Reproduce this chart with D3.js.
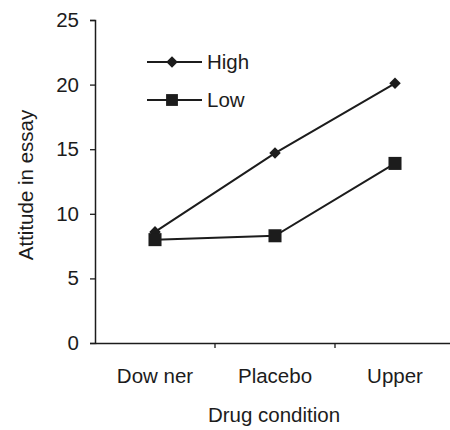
<!DOCTYPE html>
<html><head><meta charset="utf-8">
<script src="https://cdn.jsdelivr.net/npm/d3@7"></script>
<style>body{margin:0;background:#fff}</style>
</head><body>
<svg id="c" width="450" height="430"></svg>
<script>
const categories = ["Dow ner", "Placebo", "Upper"];
const highValues = [8.6, 14.7, 20.1];
const lowValues = [8.0, 8.3, 13.9];
const yTicks = [0, 5, 10, 15, 20, 25];
const seriesNames = ["High", "Low"];

const svg = d3.select("#c");
const ink = "#1c1c1c";
const font = "Liberation Sans, Arial, sans-serif";
const fs = 20.5;
const mLeft = 95, mRight = 455, mTop = 20, mBottom = 343;

const x = d3.scaleBand().domain(categories).range([mLeft, mRight]);
const y = d3.scaleLinear().domain([0, 25]).range([mBottom, mTop]);

// y axis
const ya = svg.append("g").attr("transform", `translate(${mLeft},0)`)
  .call(d3.axisLeft(y).tickValues(yTicks).tickSize(5).tickPadding(11));
ya.select(".domain").attr("stroke", ink).attr("stroke-width", 1.5);
ya.selectAll(".tick line").attr("stroke", ink).attr("stroke-width", 1.3);
ya.selectAll("text").attr("font-family", font).attr("font-size", fs).attr("fill", ink);

// x axis
const xa = svg.append("g").attr("transform", `translate(0,${mBottom})`)
  .call(d3.axisBottom(x).tickSize(0).tickPadding(25));
xa.select(".domain").attr("stroke", ink).attr("stroke-width", 1.5);
xa.selectAll("text").attr("font-family", font).attr("font-size", fs).attr("fill", ink);
// band boundary ticks
xa.selectAll(".btick").data(categories.slice(1)).enter().append("line")
  .attr("x1", d => x(d)).attr("x2", d => x(d)).attr("y1", 0).attr("y2", 5)
  .attr("stroke", ink).attr("stroke-width", 1.3);

// axis titles
svg.append("text").attr("x", 274).attr("y", 422).attr("text-anchor", "middle")
  .attr("font-family", font).attr("font-size", fs).attr("fill", ink).text("Drug condition");
svg.append("text").attr("transform", "translate(33,185) rotate(-90)").attr("text-anchor", "middle")
  .attr("font-family", font).attr("font-size", fs).attr("fill", ink).text("Attitude in essay");

const cx = d => x(d) + x.bandwidth() / 2;
const line = d3.line().x((d, i) => cx(categories[i])).y(d => y(d));

const diamond = d3.symbol().type(d3.symbolDiamond2).size(85);
const square = d3.symbol().type(d3.symbolSquare).size(170);
const squareLeg = d3.symbol().type(d3.symbolSquare).size(140);

svg.append("path").attr("d", line(lowValues)).attr("fill", "none").attr("stroke", ink).attr("stroke-width", 2);
svg.append("path").attr("d", line(highValues)).attr("fill", "none").attr("stroke", ink).attr("stroke-width", 2);

svg.selectAll(".hp").data(highValues).enter().append("path")
  .attr("transform", (d, i) => `translate(${cx(categories[i])},${y(d)})`)
  .attr("d", diamond).attr("fill", ink);
svg.selectAll(".lp").data(lowValues).enter().append("path")
  .attr("transform", (d, i) => `translate(${cx(categories[i])},${y(d)})`)
  .attr("d", square).attr("fill", ink);

// legend
const legY = [62, 100];
const syms = [diamond, squareLeg];
seriesNames.forEach((n, i) => {
  svg.append("line").attr("x1", 147).attr("x2", 202).attr("y1", legY[i]).attr("y2", legY[i])
    .attr("stroke", ink).attr("stroke-width", 2);
  svg.append("path").attr("transform", `translate(172,${legY[i]})`).attr("d", syms[i]).attr("fill", ink);
  svg.append("text").attr("x", 207).attr("y", legY[i] + 7).attr("font-family", font)
    .attr("font-size", fs).attr("fill", ink).text(n);
});
</script>
</body></html>
